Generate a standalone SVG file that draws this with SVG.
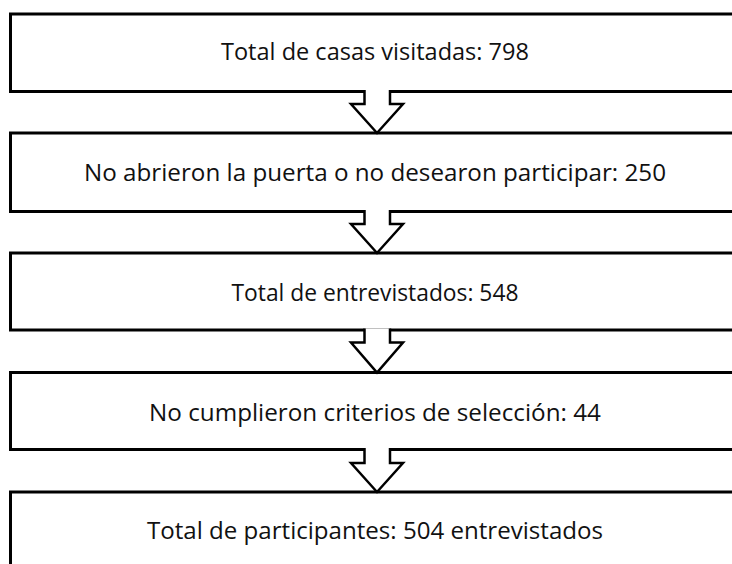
<svg xmlns="http://www.w3.org/2000/svg" width="732" height="564" viewBox="0 0 732 564">
<style>
.box{fill:#fff;stroke:#000;stroke-width:3}
.lbl{font-family:"Open Sans","Liberation Sans",sans-serif;font-size:23.5px;fill:#111;text-anchor:middle}
.arr{fill:#fff;stroke:#000;stroke-width:2.5;stroke-linejoin:miter}
</style>
<rect width="732" height="564" fill="#fff"/>
<g id="n1"><rect class="box" x="10.5" y="14" width="740" height="77.5"/><text class="lbl" x="375" y="59.5" textLength="308" lengthAdjust="spacingAndGlyphs">Total de casas visitadas: 798</text></g>
<g id="n2"><rect class="box" x="10.5" y="133" width="740" height="78.5"/><text class="lbl" x="375" y="181" textLength="582" lengthAdjust="spacingAndGlyphs">No abrieron la puerta o no desearon participar: 250</text></g>
<g id="n3"><rect class="box" x="10.5" y="253" width="740" height="77"/><text class="lbl" x="375" y="300.5" textLength="287" lengthAdjust="spacingAndGlyphs">Total de entrevistados: 548</text></g>
<g id="n4"><rect class="box" x="10.5" y="372.5" width="740" height="77"/><text class="lbl" x="375" y="420.5" textLength="452" lengthAdjust="spacingAndGlyphs">No cumplieron criterios de selección: 44</text></g>
<g id="n5"><rect class="box" x="10.5" y="492" width="740" height="78"/><text class="lbl" x="375" y="539" textLength="456" lengthAdjust="spacingAndGlyphs">Total de participantes: 504 entrevistados</text></g>
<g id="connectors">
<path class="arr" d="M364.5,90 V104 H351 L377,133 L403,104 H390 V90"/>
<path class="arr" d="M364.5,210 V224 H351 L377,253 L403,224 H390 V210"/>
<path class="arr" d="M364.5,328.5 V342.5 H351 L377,372.5 L403,342.5 H390 V328.5"/>
<path class="arr" d="M364.5,448 V463 H351 L377,492 L403,463 H390 V448"/>
</g>
</svg>
